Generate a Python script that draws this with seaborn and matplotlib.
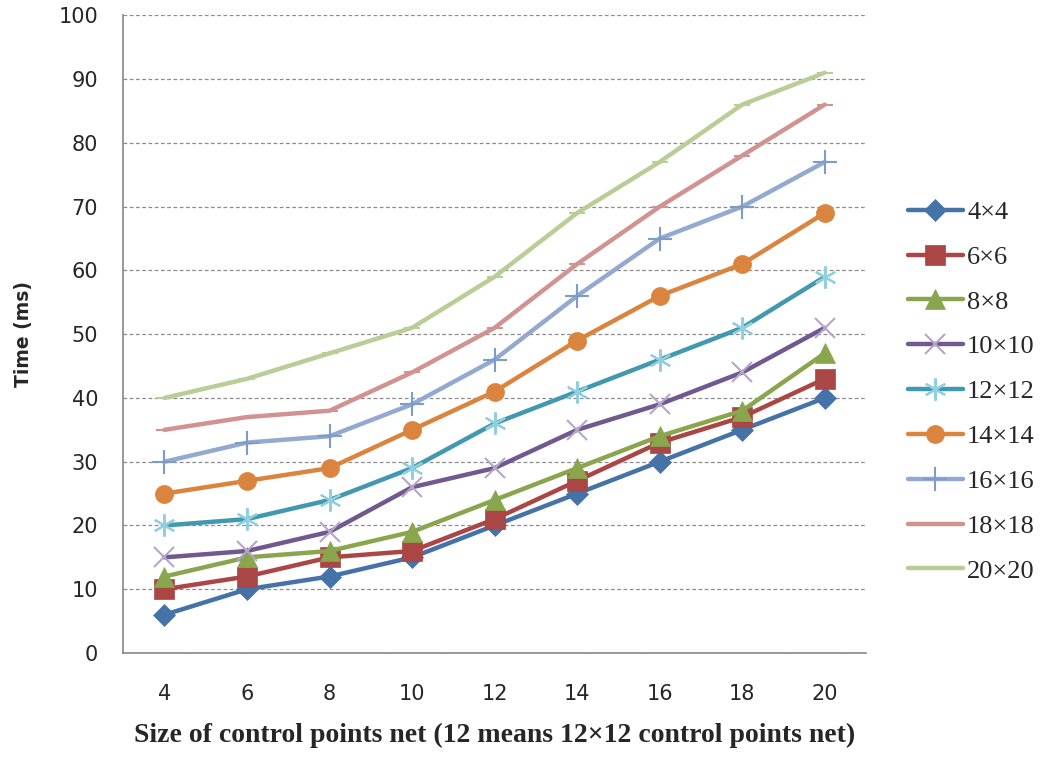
import pandas as pd
import matplotlib
matplotlib.use('Agg')
import matplotlib.pyplot as plt
import seaborn as sns

# chart data
net_sizes = [4, 6, 8, 10, 12, 14, 16, 18, 20]
series_names = ['4×4', '6×6', '8×8', '10×10', '12×12', '14×14', '16×16', '18×18', '20×20']
t_4 = [6, 10, 12, 15, 20, 25, 30, 35, 40]
t_6 = [10, 12, 15, 16, 21, 27, 33, 37, 43]
t_8 = [12, 15, 16, 19, 24, 29, 34, 38, 47]
t_10 = [15, 16, 19, 26, 29, 35, 39, 44, 51]
t_12 = [20, 21, 24, 29, 36, 41, 46, 51, 59]
t_14 = [25, 27, 29, 35, 41, 49, 56, 61, 69]
t_16 = [30, 33, 34, 39, 46, 56, 65, 70, 77]
t_18 = [35, 37, 38, 44, 51, 61, 70, 78, 86]
t_20 = [40, 43, 47, 51, 59, 69, 77, 86, 91]
all_times = [t_4, t_6, t_8, t_10, t_12, t_14, t_16, t_18, t_20]

colors = ['#4572A7', '#AA4643', '#89A54E', '#71588F', '#4198AF',
          '#DB843D', '#93A9CF', '#D19392', '#B9CD96']
marker_colors = ['#4572A7', '#AA4643', '#89A54E', '#B3A6C8', '#8FCFE0',
                 '#DB843D', '#7F9BCB', '#D19392', '#B9CD96']
markers = ['D', 's', '^', 'x', (6, 2, 0), 'o', '+', '_', '_']
msizes = [11, 14, 14, 14, 16, 13, 17, 12, 12]

rows = []
for name, vals in zip(series_names, all_times):
    for x, v in zip(net_sizes, vals):
        rows.append({'size': x, 'time': v, 'series': name})
df = pd.DataFrame(rows)

sns.set_style('white')
plt.rcParams['font.family'] = ['DejaVu Sans']

fig = plt.figure(figsize=(10.44, 7.67), dpi=100)
ax = fig.add_axes([0.118, 0.1486, 0.7115, 0.8314])

for i, name in enumerate(series_names):
    sub = df[df['series'] == name]
    thin = markers[i] in ('x', '+', '_') or i == 4
    sns.lineplot(data=sub, x='size', y='time', ax=ax, color=colors[i],
                 linewidth=3.2, marker=markers[i], markersize=msizes[i],
                 markerfacecolor=marker_colors[i], markeredgecolor=marker_colors[i],
                 markeredgewidth=1.5 if thin else 0.5,
                 label=name, zorder=3 + i)

ax.set_xlim(3, 21)
ax.set_ylim(0, 100)
ax.set_yticks(range(0, 101, 10))
ax.set_xticks(net_sizes)
ax.set_xticks(range(3, 22, 2), minor=True)
ax.tick_params(axis='x', which='major', length=0, pad=22, labelsize=15)
ax.tick_params(axis='x', which='minor', length=7, color='#868686', direction='out')
ax.tick_params(axis='y', length=7, color='#868686', direction='out', labelsize=15, pad=11)
ax.yaxis.grid(True, linestyle=(0, (3, 2)), color='#8c8c8c', linewidth=0.9)
ax.xaxis.grid(False)
for s in ['top', 'right']:
    ax.spines[s].set_visible(False)
for s in ['left', 'bottom']:
    ax.spines[s].set_color('#868686')
    ax.spines[s].set_linewidth(1.2)

ax.set_xlabel('Size of control points net (12 means 12×12 control points net)',
              family='Liberation Serif', fontsize=20, fontweight='bold', labelpad=14)
ax.set_ylabel('Time (ms)', fontsize=13.5, fontweight='bold', labelpad=18)

leg = ax.legend(loc='center left', bbox_to_anchor=(1.042, 0.41), frameon=False,
                borderaxespad=0, prop={'family': 'Liberation Serif', 'size': 19},
                handlelength=2.1, labelspacing=0.81, handletextpad=0.15)

fig.savefig('out.png', dpi=100)
